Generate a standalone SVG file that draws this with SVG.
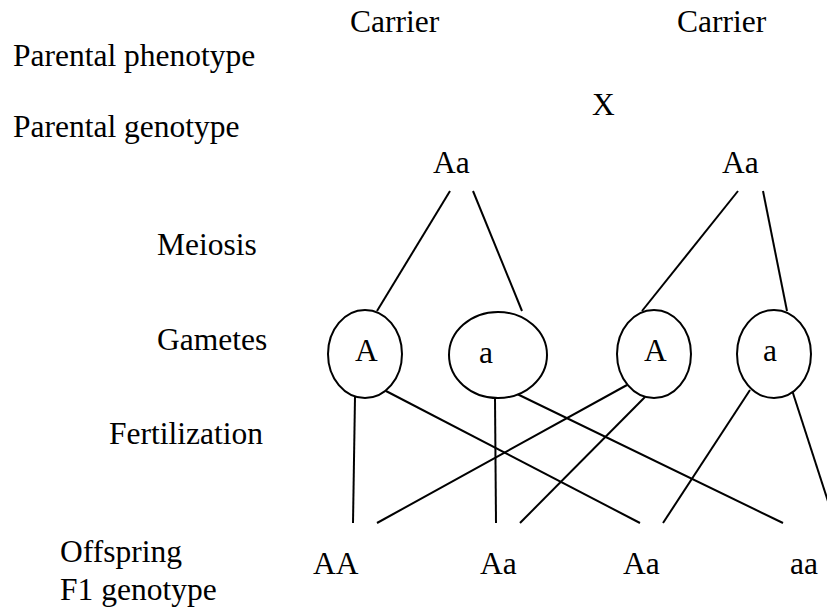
<svg xmlns="http://www.w3.org/2000/svg" width="827" height="608" viewBox="0 0 827 608">
<style>
text { font-family: "Liberation Serif", "Times New Roman", serif; font-size: 31.5px; fill: #000; }
.g { fill: #fff; stroke: #000; stroke-width: 2; }
.c line { stroke: #000; stroke-width: 2; }
</style>
<rect width="827" height="608" fill="#fff"/>
<g id="labels">
<text x="13" y="66">Parental phenotype</text>
<text x="13" y="137">Parental genotype</text>
<text x="157" y="255">Meiosis</text>
<text x="157" y="350">Gametes</text>
<text x="109" y="444">Fertilization</text>
<text x="60" y="562">Offspring</text>
<text x="60" y="600">F1 genotype</text>
</g>
<g id="phenotypes">
<text x="350" y="32">Carrier</text>
<text x="677" y="32">Carrier</text>
<text x="592" y="115">X</text>
</g>
<g id="parent1"><text x="433" y="173">Aa</text></g>
<g id="parent2"><text x="722" y="173">Aa</text></g>
<g class="c" id="connectors">
<line x1="450" y1="191" x2="377" y2="311"/>
<line x1="473" y1="191" x2="522" y2="311"/>
<line x1="738" y1="191" x2="642" y2="311"/>
<line x1="763" y1="191" x2="787" y2="311"/>
<line x1="355" y1="397" x2="353" y2="523"/>
<line x1="386" y1="391" x2="640" y2="523"/>
<line x1="495" y1="398" x2="496" y2="523"/>
<line x1="513" y1="392" x2="783" y2="523"/>
<line x1="627" y1="385" x2="377" y2="523"/>
<line x1="645" y1="397" x2="520" y2="523"/>
<line x1="750" y1="390" x2="663" y2="523"/>
<line x1="791" y1="387" x2="835" y2="523"/>
</g>
<g id="gamete1"><ellipse class="g" cx="365" cy="354" rx="37" ry="44"/><text x="355" y="361">A</text></g>
<g id="gamete2"><ellipse class="g" cx="498" cy="355" rx="49" ry="43"/><text x="479" y="363">a</text></g>
<g id="gamete3"><ellipse class="g" cx="654" cy="354" rx="37" ry="44"/><text x="644" y="361">A</text></g>
<g id="gamete4"><ellipse class="g" cx="774" cy="354" rx="37" ry="44"/><text x="763" y="361">a</text></g>
<g id="offspring1"><text x="313" y="574">AA</text></g>
<g id="offspring2"><text x="480" y="574">Aa</text></g>
<g id="offspring3"><text x="623" y="574">Aa</text></g>
<g id="offspring4"><text x="790" y="574">aa</text></g>
</svg>
